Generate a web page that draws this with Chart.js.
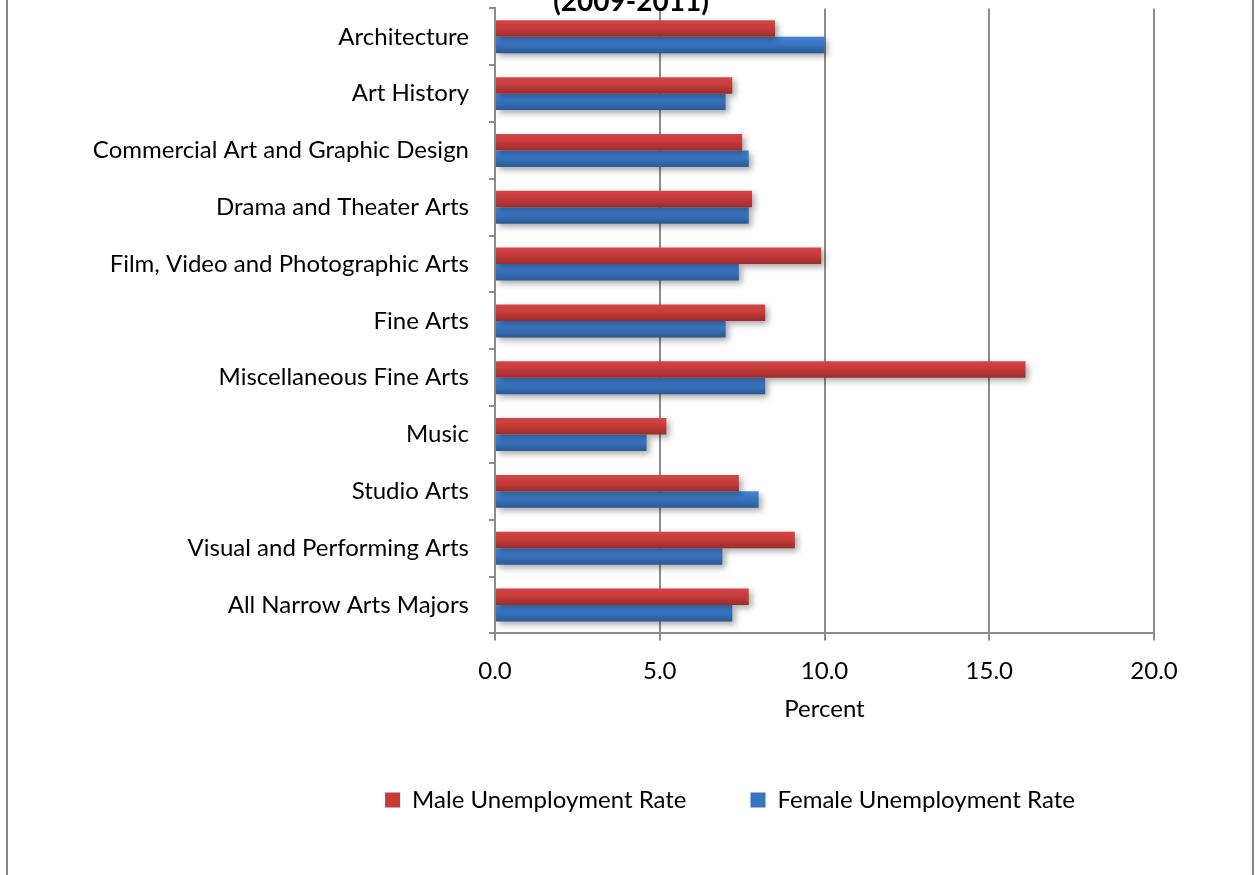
<!DOCTYPE html>
<html>
<head>
<meta charset="utf-8">
<script src="https://cdn.jsdelivr.net/npm/chart.js@4.4.1/dist/chart.umd.min.js"></script>
<style>
  html, body { margin: 0; padding: 0; background: #fff; overflow: hidden; }
  #wrap { position: absolute; left: 0; top: -26px; width: 1255px; height: 901px; }
</style>
</head>
<body>
<div id="wrap"><canvas id="chart" width="1255" height="901"></canvas></div>
<script>
// Unemployment rates (percent) for recent graduates of narrow arts majors, 2009-2011
const categories = [
  'Architecture',
  'Art History',
  'Commercial Art and Graphic Design',
  'Drama and Theater Arts',
  'Film, Video and Photographic Arts',
  'Fine Arts',
  'Miscellaneous Fine Arts',
  'Music',
  'Studio Arts',
  'Visual and Performing Arts',
  'All Narrow Arts Majors'
];
const maleRate   = [8.5, 7.2, 7.5, 7.8, 9.9, 8.2, 16.1, 5.2, 7.4, 9.1, 7.7];
const femaleRate = [10.0, 7.0, 7.7, 7.7, 7.4, 7.0, 8.2, 4.6, 8.0, 6.9, 7.2];
const xTicks = [0, 5, 10, 15, 20];

const FONT = 'Lato, "Open Sans", sans-serif';
const GRID = '#8c8c8c';
const CAT_PCT = 0.58;

const RED_STOPS  = ['#d34646', '#c73b3b', '#9b2c2c'];
const BLUE_STOPS = ['#4185d6', '#3874c1', '#2b5993'];

// vertical gradient spanning one bar, computed from the laid-out category scale
function barGradient(stops) {
  return function (ctx) {
    const chart = ctx.chart;
    const y = chart.scales && chart.scales.y;
    if (!y || ctx.type !== 'data' || !chart.chartArea) return stops[1];
    const center = y.getPixelForValue(ctx.dataIndex);
    const band = chart.chartArea.height / categories.length;
    const thick = band * CAT_PCT / 2;
    const top = ctx.datasetIndex === 0 ? center - thick : center;
    const g = chart.ctx.createLinearGradient(0, top, 0, top + thick);
    g.addColorStop(0, stops[0]);
    g.addColorStop(0.45, stops[1]);
    g.addColorStop(1, stops[2]);
    return g;
  };
}

// soft drop shadow behind the bars
const barShadow = {
  id: 'barShadow',
  beforeDatasetsDraw(chart) {
    const c = chart.ctx;
    c.save();
    c.shadowColor = 'rgba(0,0,0,0.35)';
    c.shadowBlur = 6;
    c.shadowOffsetX = 3;
    c.shadowOffsetY = 3;
  },
  afterDatasetsDraw(chart) { chart.ctx.restore(); }
};

// outer frame of the chart object
const frame = {
  id: 'frame',
  beforeDraw(chart) {
    const c = chart.ctx;
    c.save();
    c.fillStyle = '#fff';
    c.fillRect(0, 0, chart.width, chart.height);
    c.strokeStyle = '#858585';
    c.lineWidth = 2;
    c.strokeRect(7, -20, 1246, chart.height + 40);
    c.restore();
  }
};

// legend sits to the right of the title's centre line; long category
// labels are allowed to run past the left edge of the y-axis box
const layoutTweaks = {
  id: 'layoutTweaks',
  afterLayout(chart) {
    const lg = chart.legend;
    if (lg) { lg.left += 99; lg.right += 99; }
    const y = chart.scales.y;
    if (y) { y.left = 20; }
  }
};

new Chart(document.getElementById('chart'), {
  type: 'bar',
  data: {
    labels: categories,
    datasets: [
      { label: 'Male Unemployment Rate', data: maleRate,
        backgroundColor: barGradient(RED_STOPS), borderWidth: 0 },
      { label: 'Female Unemployment Rate', data: femaleRate,
        backgroundColor: barGradient(BLUE_STOPS), borderWidth: 0 }
    ]
  },
  options: {
    indexAxis: 'y',
    responsive: false,
    animation: false,
    devicePixelRatio: 1,
    categoryPercentage: CAT_PCT,
    barPercentage: 1,
    layout: { padding: { left: 108, right: 101, top: 0, bottom: 53 } },
    scales: {
      x: {
        min: 0, max: 20,
        afterBuildTicks(axis) { axis.ticks = xTicks.map(v => ({ value: v })); },
        ticks: {
          color: '#000',
          font: { family: FONT, size: 24 },
          padding: 16,
          callback: v => Number(v).toFixed(1)
        },
        grid: { color: GRID, lineWidth: 2, tickLength: 7, tickColor: GRID },
        border: { color: GRID, width: 2 },
        title: {
          display: true, text: 'Percent', color: '#000',
          font: { family: FONT, size: 24 }, padding: { top: -6, bottom: 0 }
        }
      },
      y: {
        afterFit(axis) { axis.width = 495 - 108; },
        ticks: {
          color: '#000',
          font: { family: FONT, size: 24 },
          padding: 20
        },
        grid: { drawOnChartArea: false, color: GRID, lineWidth: 2, tickLength: 6, offset: true },
        border: { color: GRID, width: 2 }
      }
    },
    plugins: {
      title: {
        display: true,
        text: '(2009-2011)',
        color: '#000',
        font: { family: FONT, size: 28, weight: 'bold', lineHeight: '25px' },
        padding: { top: 0, bottom: -6 }
      },
      legend: {
        position: 'bottom',
        labels: {
          color: '#000',
          font: { family: FONT, size: 24 },
          boxWidth: 15,
          boxHeight: 15,
          padding: 64,
          generateLabels(chart) {
            const fills = ['#c23a3a', '#3874c1'];
            return chart.data.datasets.map((ds, i) => ({
              text: ds.label, fillStyle: fills[i], strokeStyle: fills[i],
              lineWidth: 0, hidden: false, datasetIndex: i, fontColor: '#000'
            }));
          }
        }
      },
      tooltip: { enabled: false }
    }
  },
  plugins: [frame, barShadow, layoutTweaks]
});
</script>
</body>
</html>
